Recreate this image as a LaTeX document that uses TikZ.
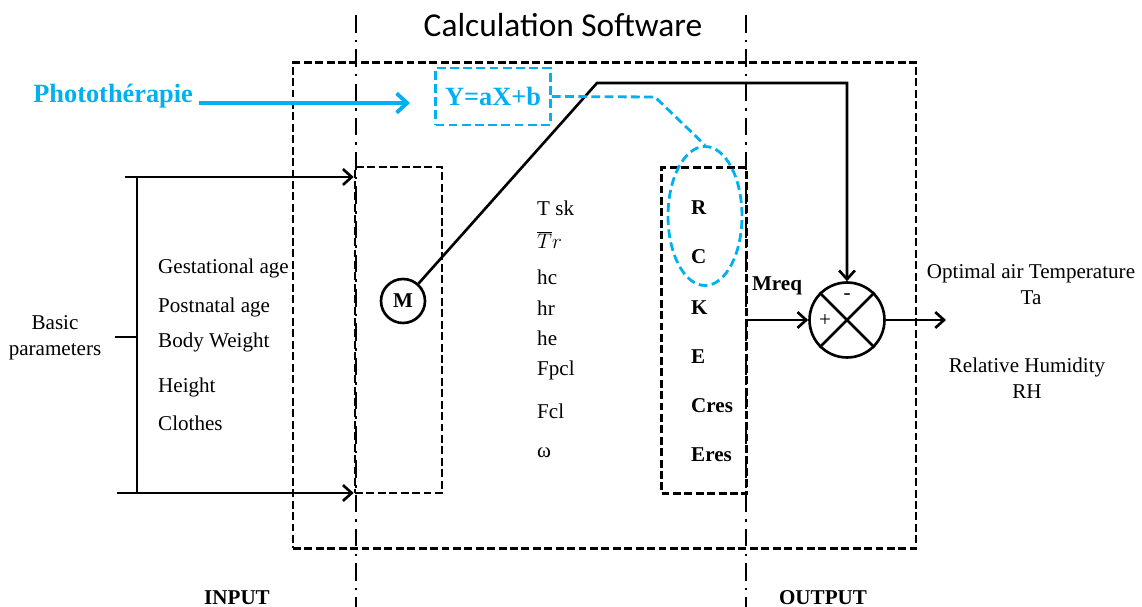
\documentclass[tikz,border=0pt]{standalone}
\usepackage{fontspec}
\setmainfont{Liberation Serif}
\newfontfamily\calibfont{Carlito}
\usetikzlibrary{arrows.meta,shapes.geometric}
\definecolor{photoblue}{RGB}{0,176,240}

\tikzset{
	dbox/.style={draw, line width=1.5pt, dash pattern=on 4.5pt off 2pt},
	dashdotline/.style={line width=1.3pt, dash pattern=on 10pt off 4pt on 1.5pt off 4pt},
	conn/.style={line width=1.5pt, -{Straight Barb[length=5pt,width=9pt,line width=1.5pt]}},
	photoarrow/.style={draw=photoblue, line width=2.2pt, -{Straight Barb[length=6pt,width=11pt,line width=2.2pt]}},
	bluedash/.style={draw=photoblue, line width=1.6pt, dash pattern=on 5pt off 2.5pt},
	txt/.style={font=\fontsize{12}{15}\selectfont},
	btxt/.style={font=\fontsize{12}{15}\selectfont\bfseries},
	bigblue/.style={font=\fontsize{15}{18}\selectfont\bfseries, text=photoblue},
}

\begin{document}
\begin{tikzpicture}[x=0.02cm,y=-0.02cm]
	\useasboundingbox (0,0) rectangle (1142,607);

	\node[dbox, minimum width=12.46cm, minimum height=9.72cm] (soft) at (604.5,305.5) {};
	\node[dbox, minimum width=1.74cm, minimum height=6.52cm] (inbox) at (398.5,330) {};
	\node[dbox, minimum width=1.7cm, minimum height=6.52cm] (outbox) at (704,330.5) {};
	\draw[dashdotline] (356,15) -- (356,607);
	\draw[dashdotline] (746,15) -- (746,607);

	\node[font=\calibfont\fontsize{19}{22}\selectfont] (title) at (563,25) {Calculation Software};
	\node[btxt] (input) at (237,598) {INPUT};
	\node[btxt] (output) at (823,598) {OUTPUT};

	% input side
	\node[txt, align=center] (basic) at (55,338) {Basic\\parameters};
	\coordinate (ptop) at (125,177);
	\coordinate (pbot) at (117,493);
	\coordinate (btop) at (137,177);
	\coordinate (bbot) at (137,493);
	\coordinate (bmid) at (137,337);
	\draw[line width=1.5pt] (btop) -- (bbot);
	\draw[line width=1.5pt] (115,337) -- (bmid);
	\draw[conn] (ptop) -- (ptop -| inbox.west);
	\draw[conn] (pbot) -- (pbot -| inbox.west);

	\node[txt, anchor=west] (gest) at (152,268) {Gestational age};
	\node[txt, anchor=west] (postn) at (152,307) {Postnatal age};
	\node[txt, anchor=west] (weight) at (152,342) {Body Weight};
	\node[txt, anchor=west] (height) at (152,387) {Height};
	\node[txt, anchor=west] (clothes) at (152,423) {Clothes};

	% middle values
	\node[txt, anchor=west] (tsk) at (531,208) {T sk};
	\node[txt, anchor=west] (tr) at (531,240) {$\overline{T}r$};
	\node[txt, anchor=west] (hc) at (531,277) {hc};
	\node[txt, anchor=west] (hr) at (531,308) {hr};
	\node[txt, anchor=west] (he) at (531,338) {he};
	\node[txt, anchor=west] (fpcl) at (531,370) {Fpcl};
	\node[txt, anchor=west] (fcl) at (531,411) {Fcl};
	\node[txt, anchor=west] (omega) at (531,453) {ω};

	\node[btxt, anchor=west] (rr) at (685,208) {R};
	\node[btxt, anchor=west] (cc) at (685,257) {C};
	\node[btxt, anchor=west] (kk) at (685,308) {K};
	\node[btxt, anchor=west] (ee) at (685,357) {E};
	\node[btxt, anchor=west] (cres) at (685,406) {Cres};
	\node[btxt, anchor=west] (eres) at (685,455) {Eres};

	% metabolism and sum
	\node[circle, draw, line width=1.5pt, minimum size=0.88cm, inner sep=0pt, btxt] (m) at (403,301) {M};
	\node[circle, draw, line width=1.5pt, minimum size=1.5cm, inner sep=0pt] (sum) at (847,320) {};
	\draw[line width=1.5pt] (sum.north west) -- (sum.south east);
	\draw[line width=1.5pt] (sum.north east) -- (sum.south west);
	\node[txt] (minus) at (847,297) {-};
	\node[txt] (plus) at (825,321) {+};

	\coordinate (kink) at (597,83);
	\draw[conn] (m) -- (kink) -| (sum.north);
	\node[btxt] (mreq) at (777,286) {Mreq};
	\draw[conn] (outbox.east |- sum.west) -- (sum.west);
	\coordinate (outend) at (946,320);
	\draw[conn] (sum.east) -- (outend);

	\node[txt, align=center] (ta) at (1031,284) {Optimal air Temperature\\Ta};
	\node[txt, align=center] (rh) at (1027,378) {Relative Humidity\\RH};

	% phototherapy
	\node[bigblue, anchor=base west, inner sep=0pt] (photo) at (33,103) {Photothérapie};
	\node[bigblue, bluedash, minimum width=2.3cm, minimum height=1.14cm] (yfun) at (493,96.5) {Y=aX+b};
	\coordinate (ptip) at (410,103);
	\draw[photoarrow] ([xshift=3pt]photo.base east) -- (ptip);
	\node[ellipse, bluedash, minimum width=1.48cm, minimum height=2.78cm] (grp) at (705,216) {};
	\coordinate (bend) at (655,97);
	\draw[bluedash] (yfun.east) -- (bend) -- (grp.north);

\end{tikzpicture}
\end{document}
